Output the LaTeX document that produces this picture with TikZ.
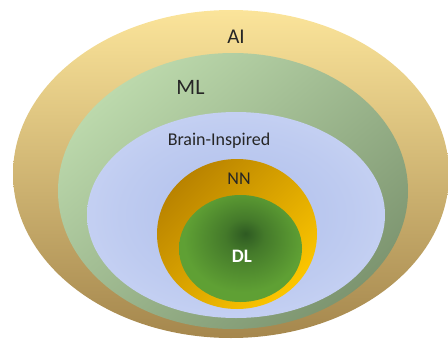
\documentclass[tikz,border=0pt]{standalone}
\usepackage{fontspec}
\setmainfont{Carlito}
\usetikzlibrary{shapes.geometric}

\definecolor{aiTop}{HTML}{FBE49A}
\definecolor{aiMid}{HTML}{E2C47C}
\definecolor{aiBot}{HTML}{A5874D}
\definecolor{mlTop}{HTML}{BCD9AC}
\definecolor{mlBot}{HTML}{7D9570}
\definecolor{biIn}{HTML}{AEBEEB}
\definecolor{biOut}{HTML}{D3DCF7}
\definecolor{nnTop}{HTML}{B98300}
\definecolor{nnMid}{HTML}{E6A600}
\definecolor{nnBot}{HTML}{FCC600}
\definecolor{dlCore}{HTML}{2E5A22}
\definecolor{dlEdge}{HTML}{5FA034}
\definecolor{labelgray}{HTML}{262626}

% soft radial fade for the deep-learning core, glow slightly above centre
\pgfdeclareradialshading{dlfade}{\pgfpoint{2bp}{7bp}}{%
  color(0bp)=(dlCore); color(8bp)=(dlCore!55!dlEdge);
  color(24bp)=(dlEdge); color(50bp)=(dlEdge)}
% gentle blue glow for the brain-inspired region
\pgfdeclareradialshading{bifade}{\pgfpoint{0bp}{0bp}}{%
  color(0bp)=(biIn); color(20bp)=(biIn!55!biOut);
  color(40bp)=(biOut); color(50bp)=(biOut)}

\begin{document}
\begin{tikzpicture}[x=1pt,y=-1pt,
  region/.style={ellipse, inner sep=0pt, draw=none},
  lbl/.style={anchor=base, text=labelgray}]
\useasboundingbox (0,0) rectangle (448,341);

% nested regions, outermost first
\node[region, minimum width=436pt, minimum height=328pt,
      top color=aiTop, middle color=aiMid, bottom color=aiBot] (ai) at (231,174) {};
\node[region, minimum width=350pt, minimum height=276pt,
      top color=mlTop, bottom color=mlBot, shading angle=40] (ml) at (233,191) {};
\node[region, minimum width=298pt, minimum height=206pt,
      shading=bifade] (bi) at (236,215) {};
\node[region, minimum width=160pt, minimum height=150pt,
      top color=nnTop, middle color=nnMid, bottom color=nnBot, shading angle=45] (nn) at (237,234) {};
\node[region, minimum width=123pt, minimum height=107pt,
      shading=dlfade] (dl) at (240.5,248.5) {};

% labels
\node[lbl, font=\fontsize{21}{21}\selectfont] (ailbl) at (236,43) {AI};
\node[lbl, font=\fontsize{22}{22}\selectfont] (mllbl) at (190.5,94) {ML};
\node[lbl, font=\fontsize{18}{18}\selectfont] (bilbl) at (219,145) {Brain-Inspired};
\node[lbl, font=\fontsize{18}{18}\selectfont] (nnlbl) at (239,184) {NN};
\node[anchor=base, text=white, font=\bfseries\fontsize{19}{19}\selectfont] (dllbl) at (242,262) {DL};
\end{tikzpicture}
\end{document}
